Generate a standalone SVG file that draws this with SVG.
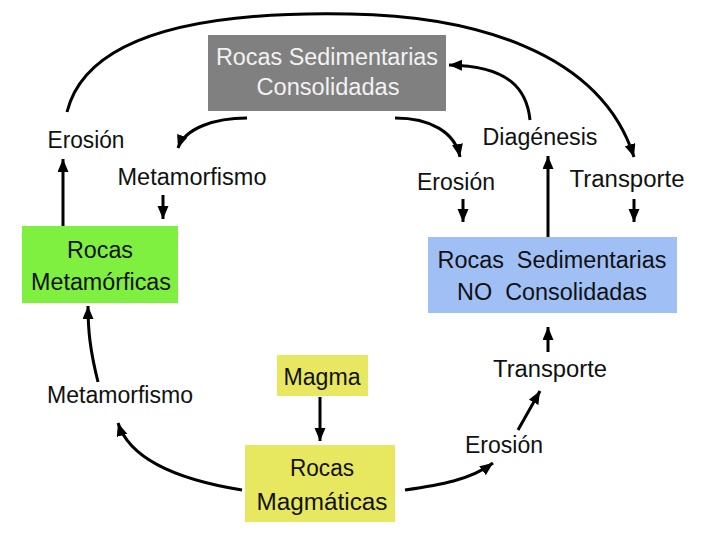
<svg xmlns="http://www.w3.org/2000/svg" width="720" height="540" viewBox="0 0 720 540">
<style>
text{font-family:"Liberation Sans",Arial,sans-serif;font-size:23px;fill:#111;text-anchor:middle}
.w{fill:#f2f2f2}
.c{fill:none;stroke:#000;stroke-width:3}
</style>
<defs>
<marker id="ah" markerUnits="userSpaceOnUse" markerWidth="15" markerHeight="13" refX="13" refY="5.5" orient="auto">
<path d="M0,0 L13,5.5 L0,11 z" fill="#000"/>
</marker>
</defs>
<rect width="720" height="540" fill="#fff"/>
<g id="connectors" marker-end="url(#ah)">
<path class="c" d="M67,112 C90,20 250,12 350,14 C470,16 600,50 634,157"/>
<path class="c" d="M247,118 C215,118 185,128 178,148"/>
<path class="c" d="M395,118 C430,118 455,132 460,157"/>
<path class="c" d="M530,120 C527,90 510,66 449,65"/>
<path class="c" d="M242,490 C180,480 130,460 118,423"/>
<path class="c" d="M98,382 C90,350 88,330 88,306"/>
<path class="c" d="M405,490 C440,485 470,480 493,463"/>
<path class="c" d="M518,430 L540,391"/>
<path class="c" d="M63,226 L63,159"/>
<path class="c" d="M163,195 L163,219"/>
<path class="c" d="M463,199 L463,222"/>
<path class="c" d="M548,237 L548,156"/>
<path class="c" d="M634,199 L634,222"/>
<path class="c" d="M548,352 L548,327"/>
<path class="c" d="M320,397 L320,441"/>
</g>
<g id="consolidadas">
<rect x="208" y="35" width="238" height="76" fill="#808080"/>
<text class="w" x="327" y="65" textLength="222" lengthAdjust="spacingAndGlyphs">Rocas Sedimentarias</text>
<text class="w" x="328" y="95" textLength="143" lengthAdjust="spacingAndGlyphs">Consolidadas</text>
</g>
<g id="metamorficas">
<rect x="22" y="226" width="156" height="77" fill="#80f040"/>
<text x="100" y="258" textLength="66" lengthAdjust="spacingAndGlyphs">Rocas</text>
<text x="101" y="290" textLength="140" lengthAdjust="spacingAndGlyphs">Metamórficas</text>
</g>
<g id="no-consolidadas">
<rect x="428" y="237" width="249" height="76" fill="#a0bff5"/>
<text x="552" y="268" textLength="229" lengthAdjust="spacingAndGlyphs" xml:space="preserve">Rocas  Sedimentarias</text>
<text x="552" y="300" textLength="190" lengthAdjust="spacingAndGlyphs" xml:space="preserve">NO  Consolidadas</text>
</g>
<g id="magma">
<rect x="277" y="355" width="91" height="41" fill="#e8e860"/>
<text x="322" y="385" textLength="77" lengthAdjust="spacingAndGlyphs">Magma</text>
</g>
<g id="magmaticas">
<rect x="245" y="445" width="150" height="77" fill="#e8e860"/>
<text x="322" y="476" textLength="64" lengthAdjust="spacingAndGlyphs">Rocas</text>
<text x="322" y="510" textLength="131" lengthAdjust="spacingAndGlyphs">Magmáticas</text>
</g>
<g id="labels">
<text x="86" y="148" textLength="77" lengthAdjust="spacingAndGlyphs">Erosión</text>
<text x="192" y="185" textLength="149" lengthAdjust="spacingAndGlyphs">Metamorfismo</text>
<text x="456" y="190" textLength="78" lengthAdjust="spacingAndGlyphs">Erosión</text>
<text x="540" y="145" textLength="115" lengthAdjust="spacingAndGlyphs">Diagénesis</text>
<text x="627" y="187" textLength="115" lengthAdjust="spacingAndGlyphs">Transporte</text>
<text x="120" y="403" textLength="146" lengthAdjust="spacingAndGlyphs">Metamorfismo</text>
<text x="550" y="377" textLength="114" lengthAdjust="spacingAndGlyphs">Transporte</text>
<text x="504" y="453" textLength="78" lengthAdjust="spacingAndGlyphs">Erosión</text>
</g>
</svg>
